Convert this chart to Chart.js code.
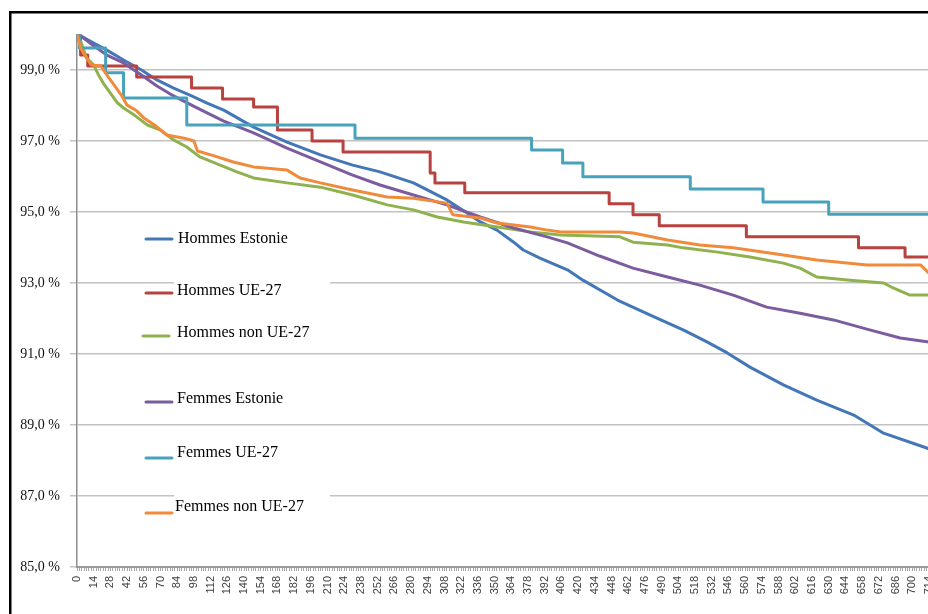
<!DOCTYPE html>
<html>
<head>
<meta charset="utf-8">
<title>Survie par groupe</title>
<script src="https://cdn.jsdelivr.net/npm/chart.js@4.4.1/dist/chart.umd.min.js"></script>
<style>
  html, body { margin: 0; padding: 0; background: #fff; overflow: hidden; width: 928px; height: 614px; }
  #wrap { position: absolute; left: 0; top: 0; width: 1000px; height: 660px; }
</style>
</head>
<body>
<div id="wrap"><canvas id="c" width="1000" height="660"></canvas></div>
<script>
// Series names
const seriesLabels = [
  'Hommes Estonie', 'Hommes UE-27', 'Hommes non UE-27',
  'Femmes Estonie', 'Femmes UE-27', 'Femmes non UE-27'
];

// Day of observation and share still present (%)
const hommesEstonieJours = [0,3,14,25,39,54,67,81,96,109,123,148,176,204,231,254,282,310,327,338,352,366,374,388,411,424,453,480,508,528,545,564,592,620,651,676,714];
const hommesEstonieTaux  = [100,99.96,99.76,99.56,99.28,99.00,98.72,98.49,98.27,98.07,97.87,97.39,96.97,96.61,96.32,96.13,95.82,95.34,94.97,94.72,94.49,94.15,93.93,93.70,93.37,93.08,92.52,92.10,91.68,91.34,91.03,90.63,90.13,89.70,89.28,88.77,88.33];

// Step series: each day is where the level drops to the listed value
const hommesUEJours = [0,3,9,50,96,122,148,168,197,223,296,300,325,446,466,488,561,655,694,714];
const hommesUETaux  = [100,99.42,99.11,98.80,98.49,98.18,97.96,97.31,97.00,96.69,96.10,95.82,95.54,95.23,94.92,94.61,94.30,93.99,93.73,93.73];

const hommesNonUEJours = [0,3,8,14,18,23,29,34,39,48,59,70,81,92,103,120,134,148,176,204,231,260,282,302,324,352,380,405,455,466,495,508,537,564,592,606,620,648,676,684,698,714];
const hommesNonUETaux  = [100,99.82,99.34,99.14,98.86,98.58,98.30,98.07,97.93,97.73,97.45,97.31,97.03,96.83,96.55,96.32,96.13,95.96,95.82,95.70,95.48,95.20,95.06,94.86,94.72,94.58,94.44,94.35,94.30,94.15,94.07,93.99,93.87,93.73,93.56,93.42,93.17,93.08,93.00,92.86,92.66,92.66];

const femmesEstonieJours = [0,3,14,25,39,54,67,81,96,109,123,148,176,204,231,254,282,310,338,366,394,411,438,466,495,522,550,578,606,634,662,690,714];
const femmesEstonieTaux  = [100,99.96,99.68,99.42,99.20,98.86,98.55,98.27,98.01,97.79,97.56,97.23,96.80,96.41,96.04,95.76,95.48,95.20,94.86,94.55,94.30,94.13,93.76,93.42,93.17,92.94,92.66,92.32,92.15,91.96,91.70,91.45,91.34];

const femmesUEJours = [0,2,24,39,92,233,381,407,424,514,575,630,714];
const femmesUETaux  = [100,99.62,98.92,98.21,97.45,97.08,96.75,96.38,95.99,95.65,95.28,94.94,94.94];

const femmesNonUEJours = [0,3,8,12,20,25,31,37,42,50,56,65,75,90,98,101,115,131,148,176,187,204,231,260,282,310,315,338,352,380,394,405,455,466,495,522,550,592,620,662,707,714];
const femmesNonUETaux  = [100,99.62,99.34,99.14,99.11,98.86,98.58,98.30,98.01,97.85,97.65,97.45,97.17,97.08,97.00,96.72,96.58,96.41,96.27,96.18,95.96,95.82,95.62,95.42,95.39,95.25,94.92,94.83,94.69,94.58,94.49,94.44,94.44,94.41,94.21,94.07,93.99,93.79,93.65,93.51,93.51,93.28];

// Value axis ticks (%) and day axis label step
const yTicks = [85, 87, 89, 91, 93, 95, 97, 99];
const dayLabelStep = 14;

const seriesColors = ['#4477b8', '#b8423f', '#8fb24f', '#7b5d9f', '#46a3bb', '#f08b3c'];
const seriesDays = [hommesEstonieJours, hommesUEJours, hommesNonUEJours, femmesEstonieJours, femmesUEJours, femmesNonUEJours];
const seriesRates = [hommesEstonieTaux, hommesUETaux, hommesNonUETaux, femmesEstonieTaux, femmesUETaux, femmesNonUETaux];
const seriesStepped = [false, 'before', false, false, 'before', false];

const toPoints = (days, rates) => days.map((d, i) => ({ x: d, y: rates[i] }));

const datasets = seriesLabels.map((label, i) => ({
  label,
  data: toPoints(seriesDays[i], seriesRates[i]),
  borderColor: seriesColors[i],
  backgroundColor: seriesColors[i],
  borderWidth: 3,
  stepped: seriesStepped[i],
  pointRadius: 0,
  tension: 0,
  fill: false,
  borderJoinStyle: 'round',
  borderCapStyle: 'round',
  order: seriesLabels.length - i   // later series are painted on top
}));

// Legend placement inside the plot (line sample and label centre)
const legendSpots = [
  { lineX: 146, lineY: 239, textX: 178, textY: 239 },
  { lineX: 146, lineY: 293, textX: 177, textY: 291 },
  { lineX: 143, lineY: 336, textX: 177, textY: 333 },
  { lineX: 146, lineY: 402, textX: 177, textY: 399 },
  { lineX: 146, lineY: 458, textX: 177, textY: 453 },
  { lineX: 146, lineY: 513, textX: 175, textY: 507 }
];

const framePlugin = {
  id: 'frame',
  beforeDraw(chart) {
    const ctx = chart.ctx;
    ctx.save();
    ctx.fillStyle = '#fff';
    ctx.fillRect(0, 0, chart.width, chart.height);
    ctx.strokeStyle = '#000';
    ctx.lineWidth = 2.5;
    ctx.strokeRect(10.25, 12.25, 1400, 1400);
    ctx.restore();
  }
};

const insetLegend = {
  id: 'insetLegend',
  afterDatasetsDraw(chart) {
    const ctx = chart.ctx;
    ctx.save();
    ctx.font = '16px "Liberation Serif", "Times New Roman", serif';
    ctx.textBaseline = 'middle';
    ctx.textAlign = 'left';
    chart.data.datasets.forEach((ds, i) => {
      const s = legendSpots[i];
      ctx.fillStyle = '#fff';
      ctx.fillRect(174, s.textY - 13, 156, 24);
      ctx.strokeStyle = ds.borderColor;
      ctx.lineWidth = 3;
      ctx.lineCap = 'round';
      ctx.beginPath();
      ctx.moveTo(s.lineX, s.lineY);
      ctx.lineTo(s.lineX + 26, s.lineY);
      ctx.stroke();
      ctx.fillStyle = '#000';
      ctx.fillText(ds.label, s.textX, s.textY);
    });
    ctx.restore();
  }
};

new Chart(document.getElementById('c'), {
  type: 'line',
  data: { datasets },
  plugins: [framePlugin, insetLegend],
  options: {
    responsive: false,
    animation: false,
    events: [],
    layout: { padding: { left: 12, top: 34.5, right: 52, bottom: 43 } },
    plugins: { legend: { display: false }, tooltip: { enabled: false } },
    scales: {
      x: {
        type: 'linear',
        min: 0,
        max: 730,
        afterBuildTicks(scale) {
          const t = [];
          for (let v = 0; v <= 730; v += 2) t.push({ value: v });
          scale.ticks = t;
        },
        afterFit(scale) { scale.height = 50; },
        ticks: {
          autoSkip: false,
          maxRotation: 90,
          minRotation: 90,
          padding: 5,
          color: '#404040',
          font: { family: '"Liberation Sans", Arial, sans-serif', size: 11 },
          callback: (v) => (v % dayLabelStep === 0 ? String(v) : '')
        },
        grid: {
          drawOnChartArea: false,
          drawTicks: true,
          tickLength: 4,
          color: '#a8a8a8',
          lineWidth: 1
        },
        border: { display: true, color: '#9a9a9a', width: 2 }
      },
      y: {
        min: 85,
        max: 100,
        afterBuildTicks(scale) { scale.ticks = yTicks.map(v => ({ value: v })); },
        afterFit(scale) { scale.width = 65; },
        ticks: {
          padding: 10,
          color: '#111',
          font: { family: '"Liberation Serif", "Times New Roman", serif', size: 14 },
          callback: (v) => v.toFixed(1).replace('.', ',') + ' %'
        },
        grid: {
          color: '#c2c2c2',
          lineWidth: 1.5,
          tickLength: 7,
          drawTicks: true
        },
        border: { display: true, color: '#8e8e8e', width: 1.5 }
      }
    }
  }
});
</script>
</body>
</html>
